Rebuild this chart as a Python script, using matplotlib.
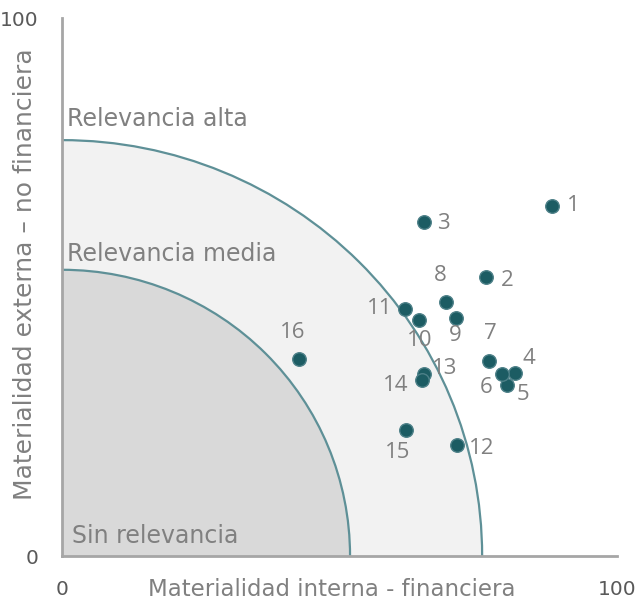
import matplotlib.pyplot as plt
from matplotlib.patches import Ellipse, Arc

# data
ids = ['1', '2', '3', '4', '5', '6', '7', '8', '9', '10', '11', '12', '13', '14', '15', '16']
interna = [88.2, 76.4, 65.2, 81.7, 80.2, 79.3, 76.9, 69.2, 71.0, 64.3, 61.8, 71.1, 65.3, 64.9, 61.9, 42.7]
externa = [65.0, 51.8, 62.0, 34.0, 31.7, 33.9, 36.3, 47.2, 44.3, 43.9, 46.0, 20.6, 33.9, 32.8, 23.4, 36.7]
label_off = [(22, 1), (21, -3), (20, -1), (13, 15), (16, -9), (-16, -14), (2, 27), (-6, 27),
             (-1, -18), (1, -21), (-25, 0), (25, -3), (20, 5), (-27, -6), (-8, -22), (-6, 26)]

radio_alta = (75.7, 77.3)
radio_media = (51.9, 53.2)

grey = '#808080'
teal = '#1c5c63'
arc_col = '#5e9097'

fig = plt.figure(figsize=(6.36, 6.07), dpi=100)
ax = fig.add_axes([62 / 636, 51 / 607, 555 / 636, 538 / 607])
ax.set_xlim(0, 100)
ax.set_ylim(0, 100)

ax.add_patch(Ellipse((0, 0), 2 * radio_alta[0], 2 * radio_alta[1], color='#f2f2f2', lw=0, zorder=1))
ax.add_patch(Ellipse((0, 0), 2 * radio_media[0], 2 * radio_media[1], color='#d9d9d9', lw=0, zorder=2))
for rx, ry in (radio_alta, radio_media):
    ax.add_patch(Arc((0, 0), 2 * rx, 2 * ry, theta1=0, theta2=90, color=arc_col, lw=1.6, zorder=3))

ax.scatter(interna, externa, s=95, color=teal, edgecolors='#4d8088', linewidths=1.0, zorder=5)
for name, x, y, (dx, dy) in zip(ids, interna, externa, label_off):
    ax.annotate(name, (x, y), xytext=(dx, dy), textcoords='offset pixels',
                ha='center', va='center', fontsize=16, color=grey, family='Open Sans', zorder=6)

ax.text(0.9, 81.3, 'Relevancia alta', fontsize=17, color=grey, va='center', ha='left', zorder=6)
ax.text(0.9, 56.2, 'Relevancia media', fontsize=17, color=grey, va='center', ha='left', zorder=6)
ax.text(1.8, 3.8, 'Sin relevancia', fontsize=17, color=grey, va='center', ha='left', zorder=6)

for side in ('top', 'right'):
    ax.spines[side].set_visible(False)
for side in ('left', 'bottom'):
    ax.spines[side].set_color('#a6a6a6')
    ax.spines[side].set_linewidth(2)
    ax.spines[side].set_zorder(7)

ax.set_xticks([0, 100])
ax.set_yticks([0, 100])
ax.tick_params(length=0, labelsize=14.5, labelcolor='#595959')
ax.tick_params(axis='x', pad=17)
ax.tick_params(axis='y', pad=17)

ax.set_xlabel('Materialidad interna - financiera', fontsize=16.5, color=grey, va='center')
ax.xaxis.set_label_coords((332 - 62) / 555, -(590 - 556) / 538)
ax.set_ylabel('Materialidad externa – no financiera', fontsize=18, color=grey, va='center')
ax.yaxis.set_label_coords((25 - 62) / 555, (556 - 274) / 538)

fig.savefig('out.png', dpi=100)
